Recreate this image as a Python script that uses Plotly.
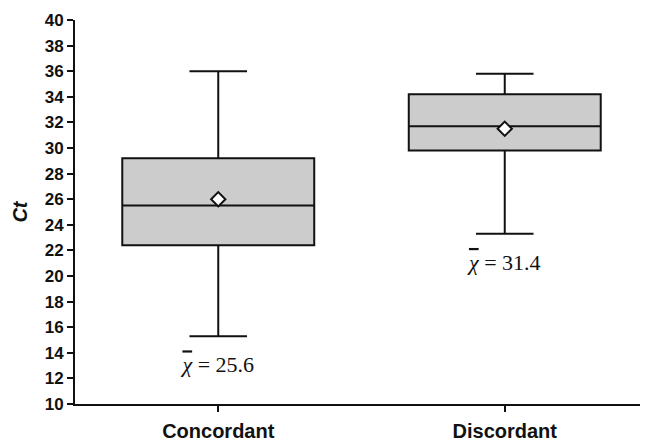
import plotly.graph_objects as go

categories = ["Concordant", "Discordant"]
lower_whisker = [15.3, 23.3]
q1 = [22.4, 29.8]
median = [25.5, 31.7]
q3 = [29.2, 34.2]
upper_whisker = [36.0, 35.8]
mean_marker = [26.0, 31.5]
mean_text_values = [25.6, 31.4]
mean_text_y = [12.9, 20.9]
y_ticks = list(range(10, 41, 2))

fig = go.Figure()
fig.add_trace(go.Box(
    x=categories, q1=q1, median=median, q3=q3,
    lowerfence=lower_whisker, upperfence=upper_whisker,
    fillcolor="#cccccc", line=dict(color="#111111", width=2),
    whiskerwidth=0.3, width=0.67, boxpoints=False, hoverinfo="skip",
    showlegend=False,
))
fig.add_trace(go.Scatter(
    x=categories, y=mean_marker, mode="markers",
    marker=dict(symbol="diamond", size=11, color="white",
                line=dict(color="#111111", width=2)),
    showlegend=False, hoverinfo="skip",
))
fig.add_trace(go.Scatter(
    x=categories, y=mean_text_y, mode="text",
    text=[f"<span style='text-decoration:overline'><i>χ</i></span> = {v}" for v in mean_text_values],
    textfont=dict(family="Liberation Serif", size=22, color="#111111"),
    showlegend=False, hoverinfo="skip",
))

fig.update_layout(
    width=640, height=435,
    margin=dict(l=67, r=0, t=12, b=39),
    plot_bgcolor="white", paper_bgcolor="white",
    font=dict(family="Liberation Sans", color="#111111"),
)
fig.update_xaxes(
    range=[-0.5, 1.5], showline=True, linecolor="#111111", linewidth=2,
    ticks="outside", ticklen=6, tickwidth=2, tickcolor="#111111",
    tickfont=dict(size=20, family="Liberation Sans"),
    ticklabelstandoff=2,
    tickvals=[0, 1], ticktext=[f"<b>{c}</b>" for c in categories],
    showgrid=False, zeroline=False,
)
fig.update_yaxes(
    range=[10, 40], showline=True, linecolor="#111111", linewidth=2,
    ticks="outside", ticklen=6, tickwidth=2, tickcolor="#111111",
    tickvals=y_ticks, ticktext=[f"<b>{t}</b>" for t in y_ticks],
    tickfont=dict(size=17, family="Liberation Sans"),
    title=dict(text="<b><i>Ct</i></b>", font=dict(size=20), standoff=12),
    showgrid=False, zeroline=False,
)

fig.write_html("out.html")
